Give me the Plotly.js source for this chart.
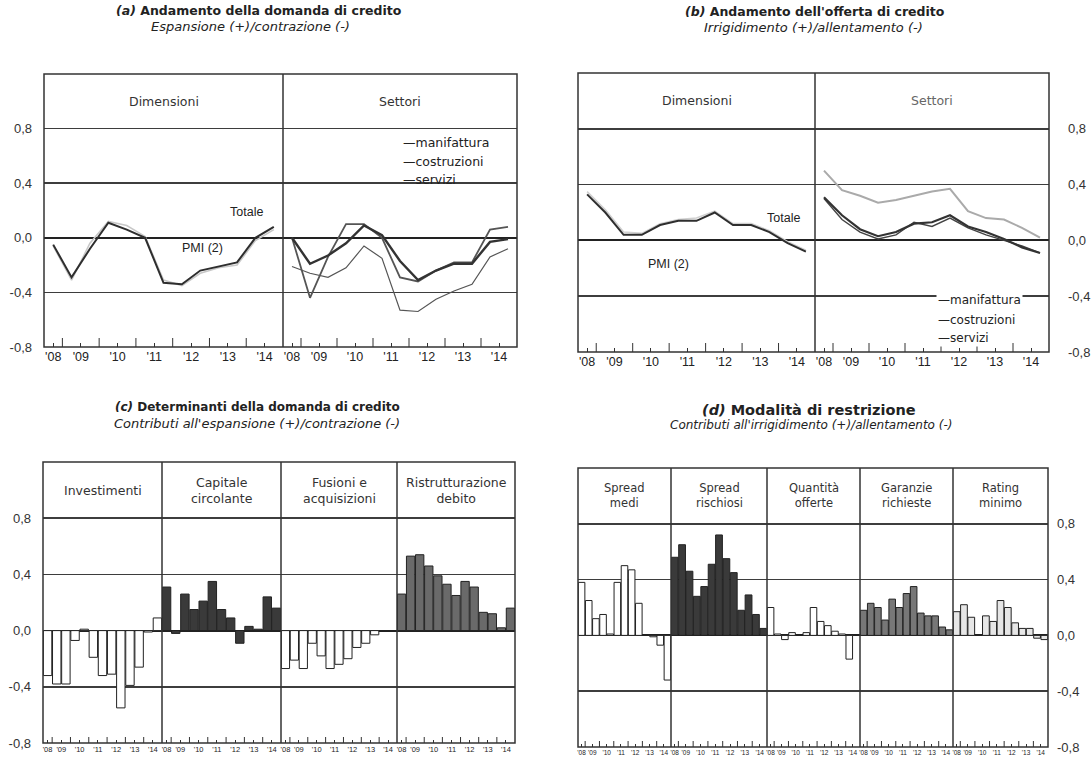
<!DOCTYPE html>
<html><head><meta charset="utf-8">
<script src="https://cdn.plot.ly/plotly-3.0.1.min.js"></script>
<style>html,body{margin:0;padding:0;background:#fff;} #chart{width:1091px;height:765px;}</style>
</head><body><div id="chart"></div>
<script>
// ---------- DATA ----------
const periods = ['2008-H2','2009-H1','2009-H2','2010-H1','2010-H2','2011-H1','2011-H2','2012-H1','2012-H2','2013-H1','2013-H2','2014-H1','2014-H2'];
const yearLabels = ["'08","'09","'10","'11","'12","'13","'14"];
const yTickVals = [-0.8,-0.4,0,0.4,0.8];
const yTickText = ['-0,8','-0,4','0,0','0,4','0,8'];

// (a) domanda
const domTotale = [-0.05,-0.29,-0.08,0.11,0.06,0.00,-0.33,-0.34,-0.24,-0.21,-0.18,0.00,0.08];
const domPMI    = [-0.06,-0.31,-0.04,0.12,0.09,0.01,-0.31,-0.35,-0.26,-0.22,-0.20,-0.02,0.06];
const domManif  = [0.00,-0.19,-0.13,-0.04,0.09,0.02,-0.17,-0.31,-0.24,-0.19,-0.19,-0.03,-0.01];
const domCostr  = [-0.21,-0.26,-0.29,-0.22,-0.06,-0.15,-0.53,-0.54,-0.45,-0.39,-0.34,-0.14,-0.08];
const domServ   = [0.00,-0.44,-0.14,0.10,0.10,0.00,-0.29,-0.32,-0.24,-0.18,-0.18,0.06,0.08];

// (b) offerta
const offTotale = [0.33,0.20,0.04,0.04,0.11,0.14,0.14,0.20,0.11,0.11,0.06,-0.02,-0.08];
const offPMI    = [0.35,0.22,0.06,0.05,0.12,0.15,0.16,0.21,0.12,0.12,0.07,-0.01,-0.07];
const offManif  = [0.31,0.18,0.08,0.03,0.06,0.12,0.13,0.18,0.10,0.06,0.01,-0.05,-0.09];
const offCostr  = [0.50,0.36,0.32,0.27,0.29,0.32,0.35,0.37,0.21,0.16,0.15,0.09,0.02];
const offServ   = [0.30,0.15,0.06,0.01,0.04,0.13,0.10,0.16,0.09,0.04,0.00,-0.04,-0.09];

// (c) determinanti della domanda
const detInvest   = [-0.32,-0.38,-0.38,-0.07,0.01,-0.19,-0.32,-0.31,-0.55,-0.39,-0.26,-0.01,0.09];
const detCapitale = [0.31,-0.02,0.26,0.15,0.21,0.35,0.15,0.09,-0.09,0.03,0.01,0.24,0.16];
const detFusioni  = [-0.27,-0.21,-0.27,-0.09,-0.18,-0.27,-0.24,-0.20,-0.12,-0.09,-0.03,0.00,0.00];
const detRistr    = [0.26,0.53,0.54,0.46,0.39,0.33,0.25,0.35,0.31,0.13,0.12,0.02,0.16];

// (d) modalità di restrizione
const resSpreadMedi  = [0.38,0.25,0.12,0.15,0.01,0.38,0.50,0.47,0.23,0.00,-0.01,-0.07,-0.32];
const resSpreadRisch = [0.56,0.65,0.46,0.28,0.35,0.51,0.72,0.55,0.45,0.18,0.29,0.15,0.05];
const resQuantita    = [0.20,0.01,-0.03,0.02,0.00,0.02,0.20,0.10,0.07,0.03,0.01,-0.17,0.00];
const resGaranzie    = [0.18,0.23,0.20,0.11,0.26,0.20,0.30,0.35,0.16,0.14,0.14,0.06,0.04];
const resRating      = [0.17,0.22,0.13,0.00,0.14,0.10,0.25,0.20,0.09,0.05,0.05,-0.02,-0.03];

// ---------- LAYOUT HELPERS ----------
const W = 1091, H = 765;
const fx = p => p / W;
const fy = p => 1 - p / H;
const FONT = 'Liberation Sans, Arial, sans-serif';
const WIDE = 'DejaVu Sans, Liberation Sans, sans-serif';
const INK = '#333';

const xIdx = periods.map((p, i) => i);
const yrs = periods.map(p => p.slice(0, 4));
const uniqYears = [...new Set(yrs)];
const yearCenters = uniqYears.map(y => {
  const ids = xIdx.filter(i => yrs[i] === y);
  return (ids[0] + ids[ids.length - 1]) / 2;
});
const yearBounds = xIdx.filter(i => i > 0 && yrs[i] !== yrs[i - 1]).map(i => i - 0.5);

const panels = [
  {xs:[44,283,517], top:74, bot:347, side:'left', tickSize:12.5, tall:9, short:4, standoff:11, hdrSize:12.5,
   subs:[
     {header:'Dimensioni', traces:[{y:domPMI, kind:'line', color:'#c8c8c8', width:1.6},
                                   {y:domTotale, kind:'line', color:'#2e2e2e', width:2}]},
     {header:'Settori', traces:[{y:domCostr, kind:'line', color:'#555', width:1.2},
                                {y:domServ, kind:'line', color:'#555', width:1.8},
                                {y:domManif, kind:'line', color:'#333', width:2.4}]}
   ]},
  {xs:[578,815,1049], top:73, bot:352, side:'right', tickSize:12.5, tall:9, short:4, standoff:18, hdrSize:12.5,
   subs:[
     {header:'Dimensioni', traces:[{y:offPMI, kind:'line', color:'#d0d0d0', width:1.6},
                                   {y:offTotale, kind:'line', color:'#2e2e2e', width:2}]},
     {header:'Settori', headerColor:'#666', traces:[{y:offCostr, kind:'line', color:'#aaa', width:2},
                                {y:offServ, kind:'line', color:'#444', width:1.4},
                                {y:offManif, kind:'line', color:'#333', width:2.2}]}
   ]},
  {xs:[43,162,281,397,515], top:462, bot:743, side:'left', tickSize:7.5, tall:6, short:3, standoff:11, hdrSize:12.5,
   subs:[
     {header:'Investimenti', traces:[{y:detInvest, kind:'bar', color:'#fff'}]},
     {header:'Capitale<br>circolante', traces:[{y:detCapitale, kind:'bar', color:'#3a3a3a'}]},
     {header:'Fusioni e<br>acquisizioni', traces:[{y:detFusioni, kind:'bar', color:'#fff'}]},
     {header:'Ristrutturazione<br>debito', traces:[{y:detRistr, kind:'bar', color:'#6a6a6a'}]}
   ]},
  {xs:[578,671,767,860,953,1048], top:468, bot:747, side:'right', tickSize:6.5, tall:6, short:3, standoff:8, hdrSize:11.5,
   subs:[
     {header:'Spread<br>medi', traces:[{y:resSpreadMedi, kind:'bar', color:'#fff'}]},
     {header:'Spread<br>rischiosi', traces:[{y:resSpreadRisch, kind:'bar', color:'#3a3a3a'}]},
     {header:'Quantità<br>offerte', traces:[{y:resQuantita, kind:'bar', color:'#fff'}]},
     {header:'Garanzie<br>richieste', traces:[{y:resGaranzie, kind:'bar', color:'#777'}]},
     {header:'Rating<br>minimo', traces:[{y:resRating, kind:'bar', color:'#e6e6e6'}]}
   ]}
];

const data = [];
const layout = {
  width: W, height: H,
  margin: {l:0, r:0, t:0, b:0},
  paper_bgcolor: '#fff', plot_bgcolor: 'rgba(0,0,0,0)',
  showlegend: false,
  bargap: 0.08,
  font: {family: FONT, color: INK},
  shapes: [], annotations: []
};

let xCount = 0;
panels.forEach((p, k) => {
  const yName = k === 0 ? 'yaxis' : 'yaxis' + (k + 1);
  const yRef = k === 0 ? 'y' : 'y' + (k + 1);
  const nSub = p.subs.length;
  const firstX = xCount + 1, lastX = xCount + nSub;
  p.subs.forEach((s, j) => {
    xCount++;
    const xName = xCount === 1 ? 'xaxis' : 'xaxis' + xCount;
    const xRef = xCount === 1 ? 'x' : 'x' + xCount;
    layout[xName] = {
      domain: [fx(p.xs[j]), fx(p.xs[j + 1])], anchor: yRef,
      range: [-0.5, 12.5], fixedrange: true,
      showgrid: false, zeroline: false, showline: false,
      tickmode: 'array', tickvals: yearCenters, ticktext: yearLabels, tickangle: 0,
      ticks: 'inside', ticklen: p.short, tickwidth: 1, tickcolor: INK,
      tickfont: {family: FONT, size: p.tickSize, color: '#222'}
    };
    // tall year-boundary ticks
    yearBounds.forEach(b => {
      layout.shapes.push({type:'line', xref:xRef, yref:'paper', x0:b, x1:b,
        y0: fy(p.bot), y1: fy(p.bot - p.tall), line:{color:INK, width:1}});
    });
    s.traces.forEach(t => {
      if (t.kind === 'line') {
        data.push({type:'scatter', mode:'lines', x:xIdx, y:t.y, xaxis:xRef, yaxis:yRef,
                   line:{color:t.color, width:t.width}, hoverinfo:'skip'});
      } else {
        data.push({type:'bar', x:xIdx, y:t.y, xaxis:xRef, yaxis:yRef,
                   marker:{color:t.color, line:{color:'#222', width:1}}, hoverinfo:'skip'});
      }
    });
    // header label
    layout.annotations.push({xref:'paper', yref:'paper',
      x: fx((p.xs[j] + p.xs[j + 1]) / 2), y: fy(p.top + (p.bot - p.top) * 0.1),
      text: s.header, showarrow:false, xanchor:'center', yanchor:'middle',
      font:{family:WIDE, size:p.hdrSize, color: s.headerColor || '#333'}});
    if (j > 0) {
      layout.shapes.push({type:'line', xref:'paper', yref:'paper',
        x0: fx(p.xs[j]), x1: fx(p.xs[j]), y0: fy(p.bot), y1: fy(p.top),
        line:{color:INK, width:1.5}});
    }
  });
  layout[yName] = {
    domain: [fy(p.bot), fy(p.top)],
    anchor: p.side === 'left' ? (firstX === 1 ? 'x' : 'x' + firstX) : 'x' + lastX,
    side: p.side, range: [-0.8, 1.2], fixedrange: true,
    tickmode: 'array', tickvals: yTickVals, ticktext: yTickText,
    showgrid: true, gridcolor: '#3d3d3d', gridwidth: 1.6,
    zeroline: true, zerolinecolor: '#222', zerolinewidth: 2,
    showline: false, ticks: '', ticklabelstandoff: p.standoff,
    tickfont: {family: FONT, size: 13, color: '#333'}
  };
  layout.shapes.push({type:'rect', xref:'paper', yref:'paper',
    x0: fx(p.xs[0]), x1: fx(p.xs[p.xs.length - 1]), y0: fy(p.bot), y1: fy(p.top),
    line:{color:INK, width:1.5}, fillcolor:'rgba(0,0,0,0)'});
});

function ann(x, y, text, size, opts, fam) {
  layout.annotations.push(Object.assign({xref:'paper', yref:'paper', x:fx(x), y:fy(y), text:text,
    showarrow:false, xanchor:'center', yanchor:'middle',
    font:{family:fam || FONT, size:size, color:'#222'}}, opts || {}));
}
// titles
ann(259, 11, '<b><i>(a)</i> Andamento della domanda di credito</b>', 12.5, null, WIDE);
ann(250, 27, '<i>Espansione (+)/contrazione (-)</i>', 13, null, WIDE);
ann(815, 12, '<b><i>(b)</i> Andamento dell\'offerta di credito</b>', 12.5, null, WIDE);
ann(813, 28, '<i>Irrigidimento (+)/allentamento (-)</i>', 13, null, WIDE);
ann(257, 407, '<b><i>(c)</i> Determinanti della domanda di credito</b>', 12, null, WIDE);
ann(257, 423, '<i>Contributi all\'espansione (+)/contrazione (-)</i>', 13, null, WIDE);
ann(809, 410, '<b><i>(d)</i> Modalità di restrizione</b>', 14.5, null, WIDE);
ann(811, 425, '<i>Contributi all\'irrigidimento (+)/allentamento (-)</i>', 12, null, WIDE);
// line labels
ann(246, 212, 'Totale', 12.5);
ann(202, 248, 'PMI (2)', 12.5);
ann(783, 218, 'Totale', 12.5);
ann(668, 264, 'PMI (2)', 12.5);
// sector keys
const keyA = [['—manifattura',142],['—costruzioni',161],['—servizi',179]];
keyA.forEach(k => ann(401, k[1], k[0], 12.5, {xanchor:'left'}, WIDE));
const keyB = [['—manifattura',300],['—costruzioni',320],['—servizi',338]];
keyB.forEach(k => ann(936, k[1], k[0], 12, {xanchor:'left', bgcolor:'#fff'}, WIDE));

Plotly.newPlot('chart', data, layout, {displayModeBar:false, staticPlot:true});
</script></body></html>
